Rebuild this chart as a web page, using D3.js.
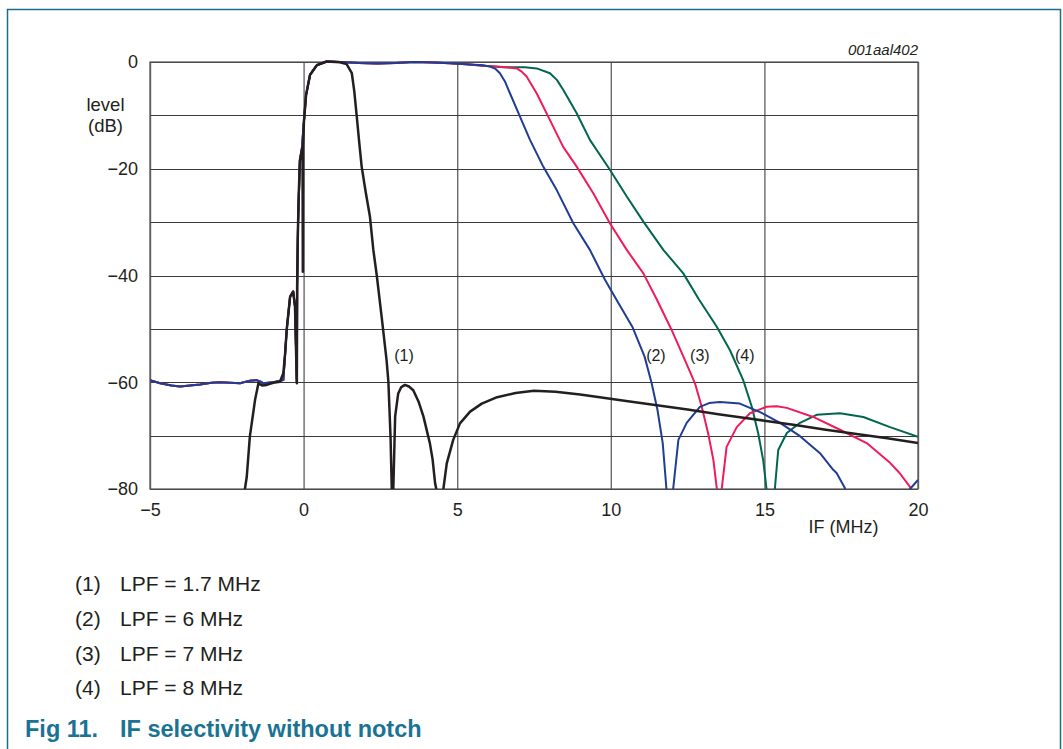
<!DOCTYPE html>
<html>
<head>
<meta charset="utf-8">
<script src="https://cdn.jsdelivr.net/npm/d3@7"></script>
<style>
  html, body { margin: 0; padding: 0; background: #ffffff; }
  svg { display: block; font-family: "Liberation Sans", Arial, Helvetica, sans-serif; }
</style>
</head>
<body>
<svg id="chart" width="1063" height="749"></svg>
<script>
// ---------------- data ----------------
const xTicks = [-5, 0, 5, 10, 15, 20];
const yGrid = [-80, -70, -60, -50, -40, -30, -20, -10, 0];
const yTickLabels = [0, -20, -40, -60, -80];

// shared image-band / passband part of curves (2), (3), (4)
const sharedLow = [
  [-5, -59.6], [-4.67, -60.2], [-4.3, -60.6], [-4.02, -60.8], [-3.7, -60.6], [-3.37, -60.4],
  [-3.0, -60.1], [-2.72, -60.0], [-2.4, -60.1], [-2.07, -60.2], [-1.75, -59.7], [-1.53, -59.6],
  [-1.4, -59.9], [-1.31, -60.2], [-0.99, -60.0], [-0.66, -59.6], [-0.6, -54.5], [-0.55, -50.2],
  [-0.44, -44], [-0.34, -43], [-0.28, -45.8], [-0.22, -60], [-0.21, -42], [-0.18, -30],
  [-0.12, -18.4], [-0.06, -16.5], [0.01, -11.2], [0.08, -6.2], [0.21, -2.4], [0.43, -0.6],
  [0.75, 0.1], [1.2, 0], [1.8, -0.2], [2.4, -0.3], [3.0, -0.2], [3.6, 0], [4.2, -0.1], [4.77, -0.25]
];

// (1) LPF = 1.7 MHz
const curve1 = [
  [-1.95, -83], [-1.91, -80], [-1.85, -77.7], [-1.75, -70.2], [-1.58, -63.3], [-1.47, -60.2],
  [-1.35, -60.6], [-1.2, -60.5], [-0.99, -60.1], [-0.77, -59.9], [-0.66, -58.3], [-0.6, -54.5],
  [-0.55, -50.2], [-0.44, -44], [-0.34, -43], [-0.28, -45.8], [-0.22, -60.2], [-0.21, -42],
  [-0.19, -33], [-0.16, -25], [-0.12, -18.4], [-0.06, -16.5], [-0.035, -16], [-0.025, -39.3],
  [-0.015, -16], [0.01, -11.2], [0.08, -6.2], [0.21, -2.4], [0.43, -0.6], [0.75, 0.1],
  [1.18, -0.05], [1.4, -0.4], [1.57, -2.1], [1.65, -5.5], [1.73, -10.2], [1.81, -15],
  [1.89, -19.6], [2.02, -24.3], [2.16, -29], [2.27, -35.2], [2.38, -39.9], [2.54, -47.7],
  [2.7, -55.8], [2.76, -59.9], [2.83, -70.2], [2.87, -79.9], [2.895, -84], [2.92, -80],
  [2.98, -66.4], [3.08, -62.1], [3.18, -60.9], [3.3, -60.5], [3.43, -60.8], [3.57, -61.5],
  [3.74, -63.6], [3.9, -66.4], [4.11, -71.4], [4.2, -74.5], [4.28, -78.9], [4.32, -80],
  [4.4, -85], [4.5, -85], [4.55, -80], [4.66, -75.2], [4.87, -70.8], [5.09, -67.7],
  [5.42, -65.5], [5.8, -64], [6.3, -62.8], [6.9, -62], [7.5, -61.6], [8.2, -61.8],
  [9.0, -62.3], [9.64, -62.8], [10.5, -63.5], [11.5, -64.3], [12.5, -65.1], [13.5, -66.0],
  [14.5, -66.8], [15.0, -67.2], [16, -68.0], [17, -68.9], [18, -69.7], [19, -70.5], [20, -71.4]
];

// (2) LPF = 6 MHz
const curve2Tail = [
  [5.3, -0.4], [5.85, -0.6], [6.07, -0.87], [6.25, -1.3], [6.39, -2.1], [6.55, -3.6],
  [6.72, -5.9], [7.04, -10.2], [7.37, -14.6], [7.8, -19.6], [8.24, -24], [8.78, -30.2],
  [9.32, -35.2], [9.81, -40.8], [10.19, -44.6], [10.7, -49.6], [11.1, -55.2], [11.33, -60.2],
  [11.52, -65.2], [11.69, -71.4], [11.81, -79.9], [11.9, -85], [12.0, -85], [12.03, -80],
  [12.2, -70.8], [12.47, -67.6], [12.9, -64.6], [13.2, -63.9], [13.55, -63.7], [14.2, -64],
  [14.86, -65.6], [15.51, -67.6], [16.16, -70.1], [16.81, -73.3], [17.24, -76.4],
  [17.35, -77], [17.62, -79.8], [17.7, -85], [19.6, -85], [19.74, -80], [20, -78.3]
];

// (3) LPF = 7 MHz
const curve3Tail = [
  [5.3, -0.4], [5.85, -0.7], [6.4, -0.9], [6.94, -1.2], [7.1, -1.8], [7.26, -2.7],
  [7.59, -5.9], [8.02, -10.9], [8.45, -15.9], [8.89, -19.6], [9.43, -24.6], [9.97, -30.2],
  [10.52, -35.2], [11.06, -39.6], [11.49, -44.4], [11.98, -50.2], [12.41, -55.8], [12.74, -60.2],
  [12.96, -64.6], [13.17, -69.6], [13.34, -74.6], [13.45, -79.9], [13.52, -85], [13.58, -85],
  [13.61, -80], [13.77, -72.1], [14.1, -68.4], [14.53, -65.8], [15.07, -64.6], [15.4, -64.5],
  [15.73, -64.8], [16.59, -66.5], [17.46, -68.9], [18.33, -71.4], [19.09, -75.1],
  [19.4, -77], [19.74, -79.6], [19.85, -82], [20, -85]
];

// (4) LPF = 8 MHz
const curve4Tail = [
  [5.3, -0.4], [5.85, -0.7], [6.5, -1.0], [7.2, -1.0], [7.59, -1.2], [8.02, -2.1],
  [8.25, -3.4], [8.45, -5.2], [8.89, -9.6], [9.32, -14.6], [9.97, -20.2], [10.52, -25.2],
  [11.06, -29.9], [11.71, -35.2], [12.36, -39.6], [12.85, -44.3], [13.45, -49.6], [13.88, -54],
  [14.31, -59.6], [14.59, -64.6], [14.8, -69.6], [14.96, -74.6], [15.07, -80], [15.15, -85],
  [15.28, -85], [15.34, -80], [15.45, -72.7], [15.73, -69.5], [16.16, -67.6], [16.7, -66.1],
  [17.46, -65.8], [18.22, -66.5], [19.09, -68.4], [20, -70.2]
];

const seriesNames = ["(1)", "(2)", "(3)", "(4)"];
const seriesColors = ["#231f20", "#1f3d94", "#ee1c5a", "#00664f"];
const seriesLabelPos = [[2.95, -55], [11.15, -55], [12.58, -55], [14.04, -55]];
const legendTexts = ["LPF = 1.7 MHz", "LPF = 6 MHz", "LPF = 7 MHz", "LPF = 8 MHz"];
const titleNum = "Fig 11.";
const titleText = "IF selectivity without notch";
const figId = "001aal402";

// ---------------- drawing ----------------
const svg = d3.select("#chart");
const L = 150, R = 918, T = 62, B = 489;
const x = d3.scaleLinear().domain([-5, 20]).range([L, R]);
const y = d3.scaleLinear().domain([-80, 0]).range([B, T]);

// frame
const frameColor = "#1c6d8a";
svg.append("path")
  .attr("d", `M7.5,749 L7.5,9.5 L1060.5,9.5 L1060.5,749`)
  .attr("fill", "none").attr("stroke", frameColor).attr("stroke-width", 1.5);

// grid + axes
const gx = svg.append("g").attr("transform", `translate(0,${B})`)
  .call(d3.axisBottom(x).tickValues(xTicks).tickSize(-(B - T)).tickPadding(14)
        .tickFormat(d3.format("d")));
gx.select(".domain").remove();
gx.selectAll("line").attr("stroke", "#6a6a6a").attr("stroke-width", 1.4);
gx.selectAll("text").attr("font-size", 18).attr("fill", "#231f20")
  .attr("font-family", "Liberation Sans, Arial, sans-serif");

const gy = svg.append("g").attr("transform", `translate(${L},0)`)
  .call(d3.axisLeft(y).tickValues(yGrid).tickSize(-(R - L)).tickPadding(12)
        .tickFormat(d => yTickLabels.includes(d) ? d3.format("d")(d) : ""));
gy.select(".domain").remove();
gy.selectAll("line").attr("stroke", "#3a3a3a").attr("stroke-width", 1).attr("shape-rendering", "crispEdges");
gy.selectAll("text").attr("font-size", 18).attr("fill", "#231f20")
  .attr("font-family", "Liberation Sans, Arial, sans-serif");

// plot border
svg.append("rect").attr("x", L).attr("y", T).attr("width", R - L).attr("height", B - T)
  .attr("fill", "none").attr("stroke", "#555").attr("stroke-width", 1.2);

// clip
svg.append("clipPath").attr("id", "clip").append("rect")
  .attr("x", L).attr("y", T - 3).attr("width", R - L).attr("height", B - T + 3);

const line = d3.line().x(d => x(d[0])).y(d => y(d[1]));
const curves = [curve1, sharedLow.concat(curve2Tail), sharedLow.concat(curve3Tail), sharedLow.concat(curve4Tail)];
const drawOrder = [3, 2, 1, 0];
const gc = svg.append("g").attr("clip-path", "url(#clip)");
drawOrder.forEach(i => {
  gc.append("path").datum(curves[i])
    .attr("d", line)
    .attr("fill", "none")
    .attr("stroke", seriesColors[i])
    .attr("stroke-width", i === 0 ? 2.5 : 2)
    .attr("stroke-linejoin", "round");
});

// in-plot labels
seriesNames.forEach((n, i) => {
  svg.append("text").attr("x", x(seriesLabelPos[i][0])).attr("y", y(seriesLabelPos[i][1]))
    .attr("dy", "0.35em").attr("font-size", 16).attr("fill", "#231f20").text(n);
});

// axis titles
svg.append("text").attr("x", 105.5).attr("y", 110.5).attr("text-anchor", "middle")
  .attr("font-size", 18.5).attr("fill", "#231f20").text("level");
svg.append("text").attr("x", 105.5).attr("y", 131.5).attr("text-anchor", "middle")
  .attr("font-size", 18.5).attr("fill", "#231f20").text("(dB)");
svg.append("text").attr("x", 843.5).attr("y", 533).attr("text-anchor", "middle")
  .attr("font-size", 18).attr("fill", "#231f20").text("IF (MHz)");
svg.append("text").attr("x", R).attr("y", 55).attr("text-anchor", "end")
  .attr("font-size", 15).attr("font-style", "italic").attr("fill", "#231f20").text(figId);

// legend
const legendBase = [591, 626, 660.5, 694.5];
seriesNames.forEach((n, i) => {
  svg.append("text").attr("x", 75).attr("y", legendBase[i]).attr("font-size", 21)
    .attr("fill", "#231f20").text(n);
  svg.append("text").attr("x", 120).attr("y", legendBase[i]).attr("font-size", 21)
    .attr("fill", "#231f20").text(legendTexts[i]);
});

// title
svg.append("text").attr("x", 25).attr("y", 737).attr("font-size", 23.5).attr("font-weight", "bold")
  .attr("fill", "#1b7393").text(titleNum);
svg.append("text").attr("x", 120).attr("y", 737).attr("font-size", 23.5).attr("font-weight", "bold")
  .attr("fill", "#1b7393").text(titleText);
</script>
</body>
</html>
